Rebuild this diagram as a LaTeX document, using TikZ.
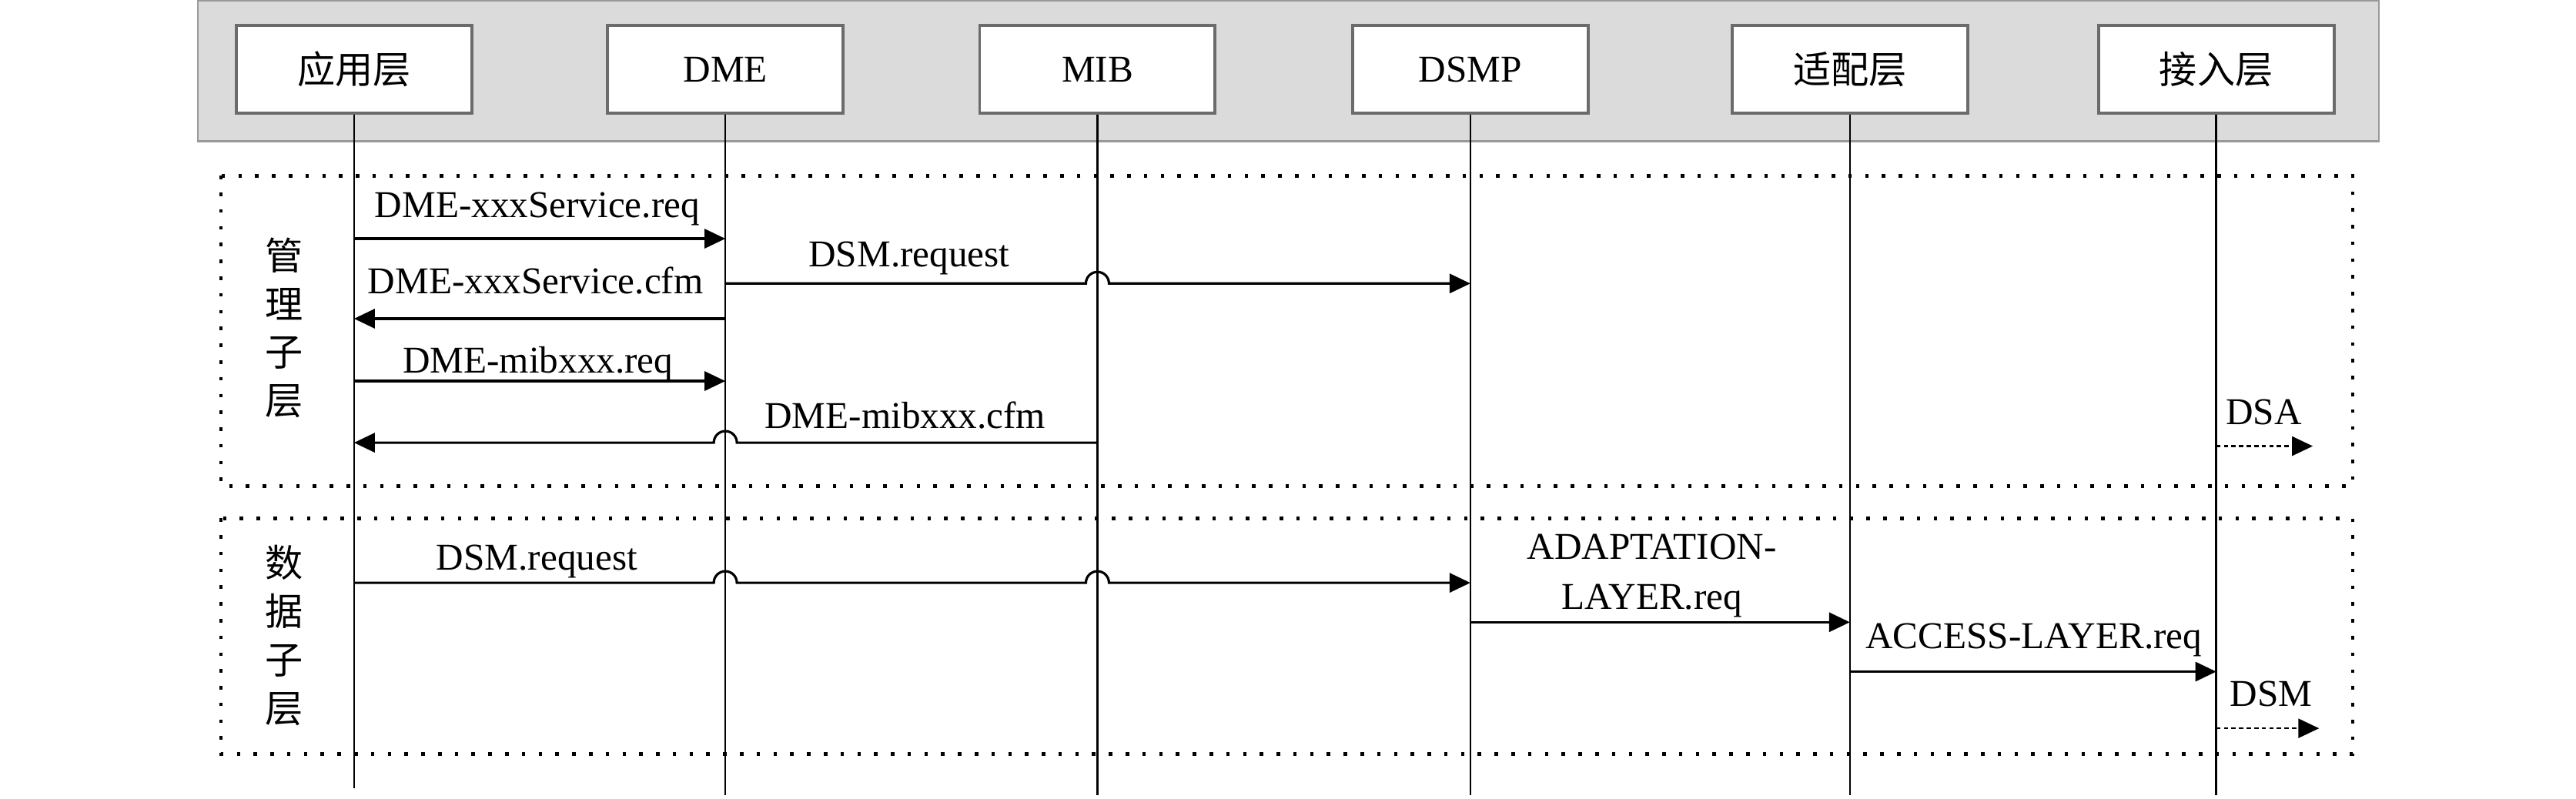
\documentclass[tikz,border=0pt]{standalone}
\usepackage{fontspec}
\setmainfont{Liberation Serif}
\newfontfamily\cjk{Noto Sans CJK SC}
\usetikzlibrary{arrows.meta,calc}

\begin{document}
\begin{tikzpicture}[x=0.02134cm,y=-0.02134cm,
    >={Triangle[length=2.7mm,width=2.5mm]},
    font=\fontsize{14}{17}\selectfont,
    layer/.style={draw=black!58,line width=1.1pt,fill=white,minimum width=3.06cm,minimum height=1.135cm,inner sep=0pt},
    life/.style={line width=0.7pt},
    msg/.style={->,line width=0.9pt},
    exitarrow/.style={->,line width=0.7pt,dash pattern=on 1.6pt off 1.2pt},
    frame/.style={line width=1.3pt,dash pattern=on 1.3pt off 4.9pt},
    lbl/.style={anchor=base,inner sep=0pt},
    sub/.style={align=center,inner sep=0pt,font=\cjk\fontsize{14}{17.9}\selectfont}]
    \useasboundingbox (0,0) rectangle (1568,486);
    \draw[draw=black!40,fill=black!14,line width=0.6pt] (120.4,0.5) rectangle (1448,86);

    \node[layer] (app) at (215.5,42.2) {\cjk 应用层};
    \node[layer] (dme) at (441.5,42.2) {DME};
    \node[layer] (mib) at (668,42.2) {MIB};
    \node[layer] (dsmp) at (895,42.2) {DSMP};
    \node[layer] (adapt) at (1126,42.2) {\cjk 适配层};
    \node[layer] (acc) at (1349,42.2) {\cjk 接入层};

    \draw[life] (app.south) -- (app.south |- 0,480);
    \draw[life] (dme.south) -- (dme.south |- 0,484);
    \draw[life] (mib.south) -- (mib.south |- 0,484);
    \draw[life] (dsmp.south) -- (dsmp.south |- 0,484);
    \draw[life] (adapt.south) -- (adapt.south |- 0,484);
    \draw[life] (acc.south) -- (acc.south |- 0,484);

    \draw[frame] (134.5,107) rectangle (1432,296);
    \draw[frame] (134.5,315.5) rectangle (1432,459);
    \node[sub] (mgmt) at (173,199.6) {管\\理\\子\\层};
    \node[sub] (data) at (173,386.8) {数\\据\\子\\层};

    \draw[msg] (app |- 0,145.3) -- (dme |- 0,145.3);
    \node[lbl] (req1) at (327,132.6) {DME-xxxService.req};
    \draw[msg] (dme |- 0,172.6) -- ($(mib |- 0,172.6)+(-7.03,0)$) arc[start angle=180,end angle=0,radius=0.15cm] -- (dsmp |- 0,172.6);
    \node[lbl] (dsm1) at (553.4,162.5) {DSM.request};
    \draw[msg] (dme |- 0,194) -- (app |- 0,194);
    \node[lbl] (cfm1) at (326,179) {DME-xxxService.cfm};
    \draw[msg] (app |- 0,232) -- (dme |- 0,232);
    \node[lbl] (req2) at (327.5,227) {DME-mibxxx.req};
    \draw[msg] (mib |- 0,269.5) -- ($(dme |- 0,269.5)+(7.03,0)$) arc[start angle=0,end angle=180,radius=0.15cm] -- (app |- 0,269.5);
    \node[lbl] (cfm2) at (551,261) {DME-mibxxx.cfm};
    \coordinate (dsaE) at (1407.8,271.6);
    \draw[exitarrow] (acc |- dsaE) -- (dsaE);
    \node[lbl] (dsa) at (1378,258.5) {DSA};

    \draw[msg] (app |- 0,354.8) -- ($(dme |- 0,354.8)+(-7.03,0)$) arc[start angle=180,end angle=0,radius=0.15cm]
        -- ($(mib |- 0,354.8)+(-7.03,0)$) arc[start angle=180,end angle=0,radius=0.15cm] -- (dsmp |- 0,354.8);
    \node[lbl] (dsm2) at (326.8,346.8) {DSM.request};
    \draw[msg] (dsmp |- 0,378.8) -- (adapt |- 0,378.8);
    \node[align=center,inner sep=0pt,font=\fontsize{14}{18.4}\selectfont] (adl) at (1005.5,350.4) {ADAPTATION-\\LAYER.req};
    \draw[msg] (adapt |- 0,408.9) -- (acc |- 0,408.9);
    \node[lbl] (acl) at (1238,394.6) {ACCESS-LAYER.req};
    \coordinate (dsmE) at (1411.6,443.4);
    \draw[exitarrow] (acc |- dsmE) -- (dsmE);
    \node[lbl] (dsm3) at (1382.5,429.8) {DSM};
\end{tikzpicture}
\end{document}
